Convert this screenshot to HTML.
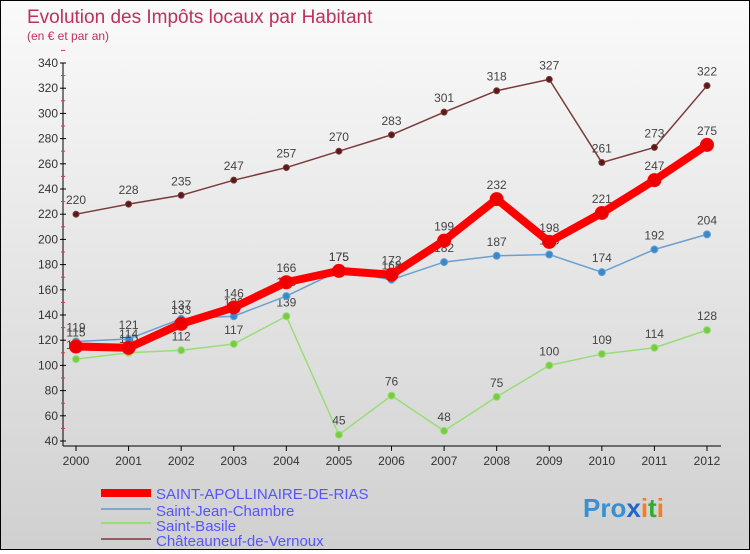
<!DOCTYPE html>
<html><head><meta charset="utf-8"><style>
body{margin:0;width:750px;height:550px;overflow:hidden;font-family:"Liberation Sans",sans-serif}
#wrap{position:relative;width:748px;height:548px;border:1px solid #000;background:linear-gradient(#fafafa,#d0d0d0)}
</style></head><body>
<div id="wrap">
<svg id="chart" width="748" height="548">
<text x="26" y="22" font-size="19" fill="#c0305a">Evolution des Impôts locaux par Habitant</text>
<text x="26" y="39" font-size="12" fill="#c0305a">(en € et par an)</text>
<g id="axes"></g><g id="series"></g>
<g>
<rect x="100" y="488" width="50" height="8" fill="#f00"/>
<text x="155" y="498" font-size="15" fill="#5555ff">SAINT-APOLLINAIRE-DE-RIAS</text>
<line x1="100" x2="150" y1="508" y2="508" stroke="#7aaad0" stroke-width="2"/>
<text x="155" y="515" font-size="15" fill="#5555ff">Saint-Jean-Chambre</text>
<line x1="100" x2="150" y1="522" y2="522" stroke="#99dd77" stroke-width="2"/>
<text x="155" y="530" font-size="15" fill="#5555ff">Saint-Basile</text>
<line x1="100" x2="150" y1="538" y2="538" stroke="#8b6060" stroke-width="2"/>
<text x="155" y="545" font-size="15" fill="#5555ff">Châteauneuf-de-Vernoux</text>
</g>
<text x="582" y="516" font-size="26" font-weight="bold"><tspan fill="#3a8fd0">Pro</tspan><tspan fill="#2266cc">x</tspan><tspan fill="#f08020">i</tspan><tspan fill="#33aa33">t</tspan><tspan fill="#f08020">i</tspan></text>
</svg></div>
<script>
const years=["2000","2001","2002","2003","2004","2005","2006","2007","2008","2009","2010","2011","2012"];
const yTicks=[40,60,80,100,120,140,160,180,200,220,240,260,280,300,320,340];
const apollinaire=[115,114,133,146,166,175,172,199,232,198,221,247,275];
const saintJean=[119,121,137,139,155,175,168,182,187,188,174,192,204];
const saintBasile=[105,110,112,117,139,45,76,48,75,100,109,114,128];
const chateauneuf=[220,228,235,247,257,270,283,301,318,327,261,273,322];
const NS="http://www.w3.org/2000/svg";
const x=i=>75+i*(706-75)/(years.length-1);
const y=v=>440-(v-40)*(440-62)/300;
function mk(t,a,p){const e=document.createElementNS(NS,t);for(const k in a)e.setAttribute(k,a[k]);p.appendChild(e);return e;}
const ax=document.getElementById('axes');
const yl=mk('line',{x1:62,x2:62,y1:y(340),y2:445,stroke:'#000'},ax);


const xl=mk('line',{x1:62,x2:720,y1:445,y2:445,stroke:'#000'},ax);


yTicks.forEach(v=>{
 mk('line',{x1:59,x2:65,y1:y(v),y2:y(v),stroke:'#000'},ax);
 mk('line',{x1:60,x2:64,y1:y(v+10),y2:y(v+10),stroke:'#e33'},ax);
 const t=mk('text',{x:57,y:y(v)+4,'text-anchor':'end','font-size':12,fill:'#333'},ax);t.textContent=v;
 
 
});
years.forEach((yr,i)=>{
 mk('line',{x1:x(i),x2:x(i),y1:445,y2:450,stroke:'#000'},ax);
 const t=mk('text',{x:x(i),y:464,'text-anchor':'middle','font-size':12,fill:'#333'},ax);t.textContent=yr;
 
 
});
const sg=document.getElementById('series');
function series(data,name,col,dot,w,r){
 const g=mk('g',{},sg);
 
 
 mk('polyline',{points:data.map((v,i)=>x(i)+','+y(v)).join(' '),fill:'none',stroke:col,'stroke-width':w,'stroke-linejoin':'round'},g);
 data.forEach((v,i)=>{
  const c=mk('circle',{cx:x(i),cy:y(v),r:r,fill:dot,stroke:col,'stroke-width':1},g);
  
  
  const t=mk('text',{x:x(i),y:y(v)-10,'text-anchor':'middle','font-size':12,fill:'#444'},g);t.textContent=v;
  
  
 });
}
series(chateauneuf,'chateauneuf-series','#7a3a3a','#5a1a1a',1.5,3);
series(saintBasile,'saint-basile-series','#99dd77','#77cc44',1.5,3.5);
series(saintJean,'saint-jean-series','#6aa0d0','#3a88cc',1.5,3.5);
series(apollinaire,'saint-apollinaire-series','#f00','#e00',8,6.5);
</script>
</body></html>
